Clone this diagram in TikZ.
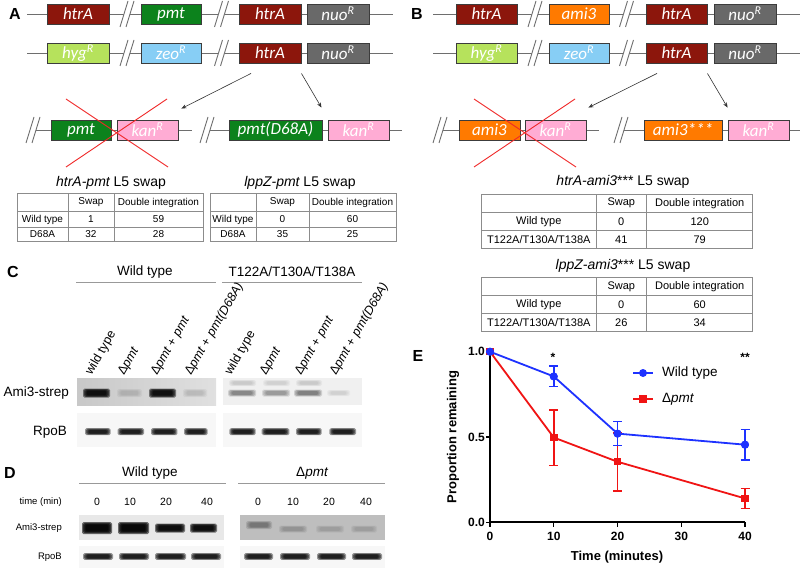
\documentclass[tikz,border=0pt]{standalone}
\usepackage{fontspec}
\setmainfont{Liberation Sans}
\newfontfamily\gf{Carlito}
\usetikzlibrary{arrows.meta,calc}
\definecolor{htr}{RGB}{140,22,12}
\definecolor{pmtg}{RGB}{12,130,28}
\definecolor{nuo}{RGB}{105,105,105}
\definecolor{hyg}{RGB}{182,226,92}
\definecolor{zeo}{RGB}{135,206,245}
\definecolor{kan}{RGB}{255,172,212}
\definecolor{amic}{RGB}{255,122,0}
\definecolor{bord}{RGB}{60,60,60}
\definecolor{chrom}{RGB}{110,110,110}
\definecolor{xred}{RGB}{240,40,40}
\definecolor{tline}{RGB}{140,140,140}
\definecolor{ebl}{RGB}{30,50,255}
\definecolor{erd}{RGB}{240,20,20}
\definecolor{gA}{RGB}{200,200,200}
\definecolor{gB}{RGB}{224,224,224}
\definecolor{gC}{RGB}{240,240,240}
\definecolor{gD}{RGB}{247,247,247}
\definecolor{gE}{RGB}{232,232,232}
\definecolor{gF}{RGB}{190,190,190}
\newcommand{\fs}[1]{\fontsize{#1}{#1}\selectfont}
\newcommand{\brk}[2]{%
  \fill[white] (#1+1,#2-13)--(#1+7,#2-13)--(#1-1,#2+13)--(#1-7,#2+13)--cycle;
  \draw[chrom,line width=0.9pt] (#1+1,#2-13)--(#1-7,#2+13) (#1+7,#2-13)--(#1-1,#2+13);}
\newcommand{\band}[5]{%
  \foreach \k in {0,1,2,3}{%
    \fill[black,opacity=#5,rounded corners=1.5pt] ({#1+\k*1.2},{#3-#4+\k*0.15*#4}) rectangle ({#2-\k*1.2},{#3+#4-\k*0.15*#4});}}
\newcommand{\tgrid}[8]{%
  \draw[tline,line width=0.8pt] (#1,#5) rectangle (#4,#8) (#2,#5)--(#2,#8) (#3,#5)--(#3,#8) (#1,#6)--(#4,#6) (#1,#7)--(#4,#7);}
\tikzset{
  gene/.style={draw=bord,line width=0.9pt,minimum height=20pt,inner sep=0pt,text=white,font=\gf\itshape\fs{17}},
  plab/.style={font=\bfseries\fs{16},inner sep=0pt},
  chl/.style={chrom,line width=0.9pt},
  arr/.style={draw=black!80,line width=0.6pt,-{Stealth[length=5pt,width=4pt]}},
  xx/.style={xred,line width=0.9pt},
  cellA/.style={font=\fs{10},inner sep=0pt},
  cellB/.style={font=\fs{11},inner sep=0pt},
  ttl/.style={font=\fs{14},inner sep=0pt},
  hdr/.style={font=\fs{13.5},inner sep=0pt},
  uline/.style={draw=black!40,line width=0.9pt},
  lane/.style={rotate=60,anchor=base west,font=\fs{12.5},inner sep=0pt},
  blab/.style={font=\fs{13.5},inner sep=0pt,anchor=east},
  dlab/.style={font=\fs{9.5},inner sep=0pt,anchor=east},
  dnum/.style={font=\fs{10.5},inner sep=0pt},
  circm/.style={circle,fill=ebl,minimum size=8pt,inner sep=0pt},
  sqm/.style={rectangle,fill=erd,minimum size=7.5pt,inner sep=0pt},
  tick/.style={font=\bfseries\fs{12},inner sep=0pt},
  ebar/.style={line width=1.6pt}
}
\begin{document}
\begin{tikzpicture}[x=1pt,y=-1pt]
\useasboundingbox (0,0) rectangle (800,572);
\fill[white] (0,0) rectangle (800,572);

% ================= Panel A =================
\node[plab] (lA) at (15,14) {A};
\draw[chl] (27,14)--(393,14);
\draw[chl] (27,53)--(393,53);
\brk{127}{14}\brk{221.5}{14}\brk{127}{53}\brk{221.5}{53}
\node[gene,fill=htr,minimum width=62pt] (a1) at (78,14) {htrA};
\node[gene,fill=pmtg,minimum width=60pt] (a2) at (171,14) {pmt};
\node[gene,fill=htr,minimum width=62pt] (a3) at (270,14) {htrA};
\node[gene,fill=nuo,minimum width=62pt] (a4) at (338,14) {nuo\textsuperscript{R}};
\node[gene,fill=hyg,minimum width=62pt] (a5) at (78,53) {hyg\textsuperscript{R}};
\node[gene,fill=zeo,minimum width=60pt] (a6) at (171,53) {zeo\textsuperscript{R}};
\node[gene,fill=htr,minimum width=62pt] (a7) at (270,53) {htrA};
\node[gene,fill=nuo,minimum width=62pt] (a8) at (338,53) {nuo\textsuperscript{R}};
% row 3
\draw[chl] (36,130)--(192,130);
\draw[chl] (210,130)--(402,130);
\brk{33}{130}\brk{207}{130}
\node[gene,fill=pmtg,minimum width=60pt] (a9) at (81,130) {pmt};
\node[gene,fill=kan,minimum width=61pt] (a10) at (147.5,130) {kan\textsuperscript{R}};
\node[gene,fill=pmtg,minimum width=93pt] (a11) at (275.5,130) {pmt(D68A)};
\node[gene,fill=kan,minimum width=61pt] (a12) at (358.5,130) {kan\textsuperscript{R}};
\draw[xx] (66,99)--(168,167) (167,99)--(66,167);
\coordinate (pa1) at ($(a7.south)+(-19,10)$);
\coordinate (qa1) at ($(a10.north east)+(3,-11)$);
\coordinate (pa2) at ($(a7.south east)+(0,10)$);
\coordinate (qa2) at ($(a11.north east)+(-1,-12)$);
\draw[arr] (pa1)--(qa1);
\draw[arr] (pa2)--(qa2);
% tables A
\node[ttl] (ta1) at (111,183) {\itshape htrA-pmt\upshape{} L5 swap};
\tgrid{17}{68}{114}{203}{193.3}{211.7}{227.3}{241.7}
\node[cellA] (ta1a) at (91,202.5) {Swap};
\node[cellA] (ta1b) at (158.5,202.5) {Double integration};
\node[cellA] (ta1c) at (42.5,219.5) {Wild type};
\node[cellA] (ta1d) at (91,219.5) {1};
\node[cellA] (ta1e) at (158.5,219.5) {59};
\node[cellA] (ta1f) at (42.5,234.5) {D68A};
\node[cellA] (ta1g) at (91,234.5) {32};
\node[cellA] (ta1h) at (158.5,234.5) {28};
\node[ttl] (ta2) at (300,183) {\itshape lppZ-pmt\upshape{} L5 swap};
\tgrid{210}{256}{309}{396}{193.3}{211.7}{227.3}{241.7}
\node[cellA] (ta2a) at (282.5,202.5) {Swap};
\node[cellA] (ta2b) at (352.5,202.5) {Double integration};
\node[cellA] (ta2c) at (233,219.5) {Wild type};
\node[cellA] (ta2d) at (282.5,219.5) {0};
\node[cellA] (ta2e) at (352.5,219.5) {60};
\node[cellA] (ta2f) at (233,234.5) {D68A};
\node[cellA] (ta2g) at (282.5,234.5) {35};
\node[cellA] (ta2h) at (352.5,234.5) {25};

% ================= Panel B =================
\node[plab] (lB) at (417,14) {B};
\draw[chl] (433,14)--(800,14);
\draw[chl] (433,53)--(800,53);
\brk{535}{14}\brk{626.5}{14}\brk{535}{53}\brk{626.5}{53}
\node[gene,fill=htr,minimum width=61pt] (b1) at (486.5,14) {htrA};
\node[gene,fill=amic,minimum width=60pt] (b2) at (579,14) {ami3};
\node[gene,fill=htr,minimum width=61pt] (b3) at (676.5,14) {htrA};
\node[gene,fill=nuo,minimum width=62pt] (b4) at (745,14) {nuo\textsuperscript{R}};
\node[gene,fill=hyg,minimum width=61pt] (b5) at (486.5,53) {hyg\textsuperscript{R}};
\node[gene,fill=zeo,minimum width=60pt] (b6) at (579,53) {zeo\textsuperscript{R}};
\node[gene,fill=htr,minimum width=61pt] (b7) at (676.5,53) {htrA};
\node[gene,fill=nuo,minimum width=62pt] (b8) at (745,53) {nuo\textsuperscript{R}};
\draw[chl] (443,130)--(599,130);
\draw[chl] (624,130)--(800,130);
\brk{440}{130}\brk{621}{130}
\node[gene,fill=amic,minimum width=61pt] (b9) at (489.5,130) {ami3};
\node[gene,fill=kan,minimum width=61pt] (b10) at (555.5,130) {kan\textsuperscript{R}};
\node[gene,fill=amic,minimum width=78pt] (b11) at (683,130) {ami3***};
\node[gene,fill=kan,minimum width=61pt] (b12) at (758.5,130) {kan\textsuperscript{R}};
\draw[xx] (474,99)--(576,167) (575,99)--(474,167);
\coordinate (pb1) at ($(b7.south)+(-19.5,10)$);
\coordinate (qb1) at ($(b10.north east)+(2,-12)$);
\coordinate (pb2) at ($(b7.south east)+(0,10)$);
\coordinate (qb2) at ($(b12.north west)+(0,-12)$);
\draw[arr] (pb1)--(qb1);
\draw[arr] (pb2)--(qb2);
% tables B
\node[ttl] (tb1) at (623,182) {\itshape htrA-ami3\upshape*** L5 swap};
\tgrid{481.7}{596}{646.7}{752.7}{194.3}{212.3}{230.3}{248.3}
\node[cellB] (tb1a) at (621.3,203.3) {Swap};
\node[cellB] (tb1b) at (699.7,203.3) {Double integration};
\node[cellB] (tb1c) at (538.8,221.3) {Wild type};
\node[cellB] (tb1d) at (621.3,221.3) {0};
\node[cellB] (tb1e) at (699.7,221.3) {120};
\node[cellB] (tb1f) at (538.8,239.3) {T122A/T130A/T138A};
\node[cellB] (tb1g) at (621.3,239.3) {41};
\node[cellB] (tb1h) at (699.7,239.3) {79};
\node[ttl] (tb2) at (623,266) {\itshape lppZ-ami3\upshape*** L5 swap};
\tgrid{481.7}{596}{646.7}{752.7}{277.7}{295.7}{313.7}{331.7}
\node[cellB] (tb2a) at (621.3,286.7) {Swap};
\node[cellB] (tb2b) at (699.7,286.7) {Double integration};
\node[cellB] (tb2c) at (538.8,304.7) {Wild type};
\node[cellB] (tb2d) at (621.3,304.7) {0};
\node[cellB] (tb2e) at (699.7,304.7) {60};
\node[cellB] (tb2f) at (538.8,322.7) {T122A/T130A/T138A};
\node[cellB] (tb2g) at (621.3,322.7) {26};
\node[cellB] (tb2h) at (699.7,322.7) {34};

% ================= Panel C =================
\node[plab] (lC) at (13,272) {C};
\node[hdr] (cwt) at (145,272) {Wild type};
\draw[uline] (76,282)--(216,282);
\node[hdr] (cmt) at (292,272) {T122A/T130A/T138A};
\draw[uline] (222,282)--(362,282);
\node[lane] (cl1) at (91.5,376) {wild type};
\node[lane] (cl2) at (124,376) {Δ\itshape pmt};
\node[lane] (cl3) at (157,376) {Δ\textit{pmt} + \textit{pmt}};
\node[lane] (cl4) at (191,376) {Δ\textit{pmt} + \textit{pmt(D68A)}};
\node[lane] (cl5) at (231,376) {wild type};
\node[lane] (cl6) at (266,376) {Δ\itshape pmt};
\node[lane] (cl7) at (301,376) {Δ\textit{pmt} + \textit{pmt}};
\node[lane] (cl8) at (336,376) {Δ\textit{pmt} + \textit{pmt(D68A)}};
\shade[left color=gA,right color=gB] (77,378) rectangle (216,405);
\fill[gC] (223,378) rectangle (362,405);
\fill[gD] (77,413) rectangle (216,447);
\fill[gD] (223,413) rectangle (362,447);
\band{83}{110}{393}{4.5}{0.47}
\band{117}{142}{393}{4}{0.04}
\band{149}{176}{393}{4.5}{0.47}
\band{183}{207}{393}{4}{0.04}
\band{229}{256}{383}{3}{0.04}
\band{263}{290}{383}{3}{0.03}
\band{296}{322}{383}{3}{0.04}
\band{228}{256}{393}{3.5}{0.13}
\band{262}{290}{393}{3.5}{0.1}
\band{294}{322}{393}{3.5}{0.14}
\band{327}{350}{393}{3}{0.03}
\foreach \a/\b in {85/110.7,117.7/144,151/177.3,184/207.7,229.3/255.7,261.7/289.3,296/321.7,329.3/356}{\band{\a}{\b}{431.7}{3.5}{0.4}}
\node[blab] (cam) at (69,393) {Ami3-strep};
\node[blab] (crp) at (67,432) {RpoB};

% ================= Panel D =================
\node[plab] (lD) at (10,473) {D};
\node[hdr] (dwt) at (150,473) {Wild type};
\draw[uline] (79,483)--(226,483);
\node[hdr] (dmt) at (312,473) {Δ\itshape pmt};
\draw[uline] (238,483)--(385,483);
\node[dlab] (dtm) at (62,502) {time (min)};
\node[dnum] (dn1) at (97,502) {0};
\node[dnum] (dn2) at (130,502) {10};
\node[dnum] (dn3) at (166,502) {20};
\node[dnum] (dn4) at (207,502) {40};
\node[dnum] (dn5) at (258,502) {0};
\node[dnum] (dn6) at (293,502) {10};
\node[dnum] (dn7) at (329,502) {20};
\node[dnum] (dn8) at (366,502) {40};
\fill[gE] (79,515) rectangle (224,540);
\fill[gF] (240,515) rectangle (385,540);
\fill[gD] (79,546) rectangle (224,568);
\fill[gD] (240,546) rectangle (385,568);
\band{82}{112}{528}{6}{0.55}
\band{118}{149}{528}{6}{0.55}
\band{155}{185}{528}{4.5}{0.5}
\band{190}{217}{528}{4.5}{0.5}
\band{246}{272}{525}{4}{0.11}
\band{279}{307}{529}{3.5}{0.06}
\band{316}{344}{529}{3.5}{0.045}
\band{351}{377}{529}{3.5}{0.045}
\foreach \a/\b in {83/113,119/149,155/186,191/221,244/273,280/310,317/346,352/382}{\band{\a}{\b}{556.5}{3.3}{0.4}}
\node[dlab] (dam) at (62,528) {Ami3-strep};
\node[dlab] (drp) at (62,557) {RpoB};

% ================= Panel E =================
\node[plab] (lE) at (418,356) {E};
\begin{scope}[shift={(490,522.3)},x=6.375pt,y=170.6pt]
  \draw[line width=1.8pt] (0,1.0)--(0,0)--(40,0);
  \foreach \t in {0,10,20,30,40}{
    \draw[line width=1.4pt] (\t,0)--++(0pt,-5pt);
    \node[tick] (xt\t) at ($(\t,0)+(0pt,-14.5pt)$) {\t};}
  \foreach \v/\l in {0/0.0,0.5/0.5,1/1.0}{
    \draw[line width=1.4pt] (0,\v)--++(-4pt,0pt);
    \node[tick,anchor=east] (yt\l) at ($(0,\v)+(-5pt,0pt)$) {\l};}
  % red series
  \draw[erd,ebar] (10,0.334)--(10,0.66) (20,0.185)--(20,0.525) (40,0.082)--(40,0.198);
  \foreach \t/\v in {10/0.334,10/0.66,20/0.185,20/0.525,40/0.082,40/0.198}{
    \draw[erd,ebar] ($(\t,\v)+(-4.5pt,0pt)$)--($(\t,\v)+(4.5pt,0pt)$);}
  \node[sqm] (r0) at (0,1) {};
  \node[sqm] (r1) at (10,0.497) {};
  \node[sqm] (r2) at (20,0.355) {};
  \node[sqm] (r3) at (40,0.14) {};
  \draw[erd,line width=1.8pt] (r0.center)--(r1.center)--(r2.center)--(r3.center);
  % blue series
  \draw[ebl,ebar] (10,0.795)--(10,0.915) (20,0.45)--(20,0.59) (40,0.365)--(40,0.545);
  \foreach \t/\v in {10/0.795,10/0.915,20/0.45,20/0.59,40/0.365,40/0.545}{
    \draw[ebl,ebar] ($(\t,\v)+(-4.5pt,0pt)$)--($(\t,\v)+(4.5pt,0pt)$);}
  \node[circm] (c0) at (0,1) {};
  \node[circm] (c1) at (10,0.855) {};
  \node[circm] (c2) at (20,0.52) {};
  \node[circm] (c3) at (40,0.455) {};
  \draw[ebl,line width=1.8pt] (c0.center)--(c1.center)--(c2.center)--(c3.center);
  \foreach \n in {c0,c1,c2,c3}{\fill[ebl] (\n) circle (4pt);}
\end{scope}
\node[font=\bfseries\fs{12},inner sep=0pt] (st1) at (553,357) {*};
\node[font=\bfseries\fs{12},inner sep=0pt] (st2) at (745,357) {**};
\draw[ebl,line width=1.8pt] (633,373)--(653,373);
\node[circm] (lgb) at (643,373) {};
\node[font=\fs{13.5},inner sep=0pt,anchor=west] (lgbt) at (662,373) {Wild type};
\draw[erd,line width=1.8pt] (633,399)--(653,399);
\node[sqm] (lgr) at (643,399) {};
\node[font=\fs{13.5},inner sep=0pt,anchor=west] (lgrt) at (662,399) {Δ\itshape pmt};
\node[font=\bfseries\fs{13},rotate=90,inner sep=0pt] (ylab) at (453,437) {Proportion remaining};
\node[font=\bfseries\fs{13},inner sep=0pt] (xlab) at (617,557) {Time (minutes)};
\end{tikzpicture}
\end{document}
